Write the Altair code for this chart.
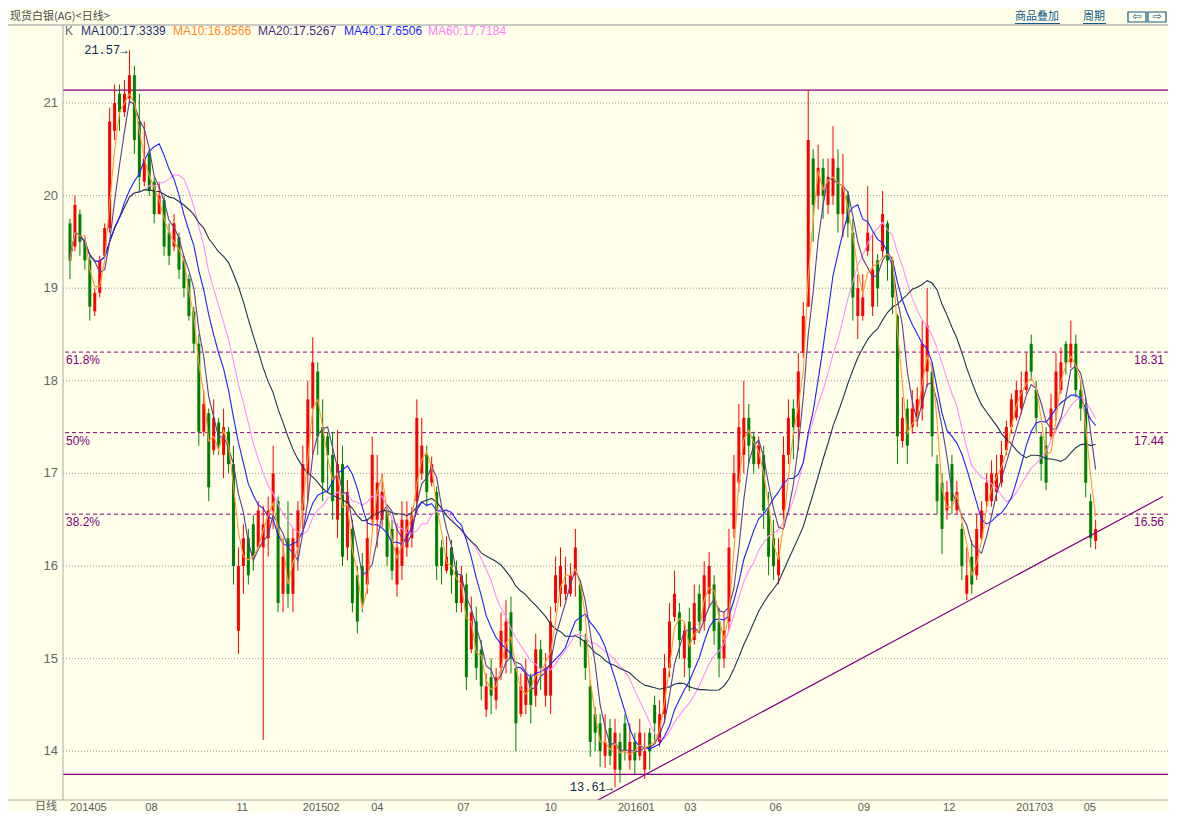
import altair as alt
import pandas as pd

# ---------------- data ----------------
opens = [19.7, 19.45, 19.8, 19.5, 19.3, 18.75, 18.95, 19.35, 19.65, 20.7,
         21.1, 20.9, 21.05, 21.3, 20.8, 20.15, 20.45, 20.15, 19.8, 19.95,
         19.6, 19.45, 19.55, 19.3, 19.1, 18.75, 18.4, 17.45, 17.65, 17.25,
         17.55, 17.2, 17.45, 17.1, 15.3, 16.0, 16.3, 16.45, 16.2, 16.2,
         16.3, 16.6, 16.7, 15.7, 16.3, 15.7, 16.2, 16.6, 17.0, 17.7,
         18.1, 17.5, 17.4, 17.2, 16.5, 17.1, 16.2, 16.4, 15.9, 16.0,
         15.8, 16.5, 16.5, 16.5, 16.6, 16.4, 15.8, 16.0, 16.2, 16.3,
         16.7, 17.0, 17.2, 16.9, 16.8, 16.2, 15.95, 16.2, 15.95, 15.6,
         15.8, 15.1, 15.4, 15.1, 14.45, 14.8, 14.55, 14.9, 15.0, 15.5,
         14.9, 14.4, 14.5, 14.8, 14.6, 15.1, 14.6, 14.6, 15.6, 15.7,
         15.7, 15.7, 15.9, 15.8, 15.2, 14.7, 14.4, 14.3, 13.95, 14.25,
         13.8, 14.1, 14.3, 13.9, 14.1, 13.95, 13.8, 14.2, 14.5, 14.1,
         14.4, 14.9, 15.45, 15.5, 15.0, 15.4, 15.2, 15.7, 15.4, 15.7,
         15.8, 15.4, 15.0, 15.4, 16.4, 16.9, 17.2, 17.6, 17.4, 17.1,
         17.2, 16.6, 16.3, 15.9, 16.6, 17.2, 17.7, 17.5, 18.3, 18.8,
         20.4, 20.0, 20.3, 19.9, 20.0, 20.3, 19.8, 20.0, 19.6, 18.7,
         18.7, 19.4, 18.8, 19.3, 19.4, 19.7, 19.3, 18.7, 17.35, 17.7,
         17.5, 17.6, 17.7, 18.1, 18.1, 17.1, 16.9, 16.6, 17.1, 16.6,
         16.4, 15.7, 16.1, 15.9, 16.3, 16.7, 16.7, 16.8, 16.9, 17.25,
         17.5, 17.6, 17.7, 17.9, 18.4, 17.9, 17.4, 17.3, 17.4, 17.7,
         17.9, 18.4, 18.2, 18.4, 17.9, 17.7, 16.7, 16.27]
highs = [19.75, 20.0, 19.85, 19.55, 19.35, 19.0, 19.35, 19.7, 20.95, 21.2,
         21.2, 21.25, 21.57, 21.4, 21.1, 20.8, 20.5, 20.2, 20.15, 20.0,
         19.7, 19.8, 19.6, 19.35, 19.15, 18.8, 18.5, 17.9, 17.7, 17.8,
         17.6, 17.7, 17.5, 17.3, 16.2, 16.45, 16.4, 16.55, 16.7, 16.65,
         16.75, 17.3, 16.75, 16.3, 16.7, 16.4, 16.7, 17.3, 18.0, 18.47,
         18.2, 17.8, 17.45, 17.45, 17.47, 17.3, 16.93, 16.5, 16.0, 16.14,
         16.5, 17.4, 17.2, 17.0, 16.64, 16.5, 16.46, 16.7, 16.7, 16.64,
         17.8, 17.6, 17.3, 17.18, 16.86, 16.28, 16.32, 16.28, 16.06, 16.0,
         15.92, 15.67, 15.56, 15.2, 14.84, 15.0, 14.9, 15.5, 15.63, 15.67,
         14.95, 14.84, 15.0, 14.84, 15.27, 15.2, 15.06, 15.56, 16.1, 16.2,
         16.1, 16.03, 16.4, 15.85, 15.27, 14.77, 14.48, 14.4, 14.4, 14.35,
         14.35, 14.2, 14.4, 14.3, 14.2, 14.35, 14.2, 14.25, 14.6, 14.55,
         15.05, 15.6, 15.95, 15.6, 15.4, 15.55, 15.8, 15.8, 16.05, 16.15,
         15.9, 15.55, 15.5, 16.4, 17.2, 17.75, 18.0, 17.75, 17.45, 17.4,
         17.3, 16.8, 16.5, 16.3, 17.4, 17.8, 17.8, 18.3, 18.85, 21.14,
         20.5, 20.55, 20.4, 20.4, 20.75, 20.5, 20.45, 20.05, 19.75, 19.15,
         19.15, 20.1, 19.6, 19.37, 20.05, 19.73, 19.33, 18.72, 17.82, 17.8,
         17.9, 17.93, 18.65, 19.0, 18.2, 17.2, 17.0, 16.92, 17.2, 16.92,
         16.46, 16.2, 16.28, 16.56, 16.7, 17.0, 17.14, 17.2, 17.35, 17.57,
         17.86, 18.0, 18.1, 18.3, 18.5, 18.0, 17.43, 17.5, 17.86, 18.3,
         18.36, 18.43, 18.65, 18.5, 18.0, 17.82, 16.78, 16.5]
lows = [19.1, 19.4, 19.35, 19.2, 18.65, 18.7, 18.9, 19.35, 19.6, 20.6,
        20.7, 20.85, 20.98, 20.45, 20.05, 20.1, 20.0, 19.7, 19.8, 19.35,
        19.25, 19.4, 19.1, 18.9, 18.65, 18.3, 17.3, 17.4, 16.7, 17.2,
        17.2, 16.95, 17.0, 15.8, 15.05, 15.7, 15.8, 15.95, 16.2, 14.12,
        16.1, 16.4, 15.5, 15.5, 15.55, 15.5, 15.95, 16.4, 16.7, 17.2,
        17.2, 16.7, 16.8, 16.5, 16.3, 16.0, 16.06, 15.5, 15.27, 15.5,
        15.7, 16.42, 16.2, 16.42, 16.0, 15.85, 15.67, 15.85, 16.1, 16.2,
        16.57, 16.93, 16.64, 16.86, 15.85, 15.8, 15.92, 15.7, 15.5, 15.5,
        14.66, 15.06, 14.77, 14.55, 14.37, 14.4, 14.45, 14.77, 14.84, 14.84,
        14.0, 14.37, 14.4, 14.3, 14.48, 14.66, 14.48, 14.4, 15.5, 15.56,
        15.63, 15.67, 15.67, 15.13, 14.77, 13.94, 14.0, 13.83, 13.82, 13.85,
        13.61, 13.66, 13.9, 13.8, 13.75, 13.9, 13.7, 13.8, 14.1, 14.05,
        14.3, 14.8, 15.4, 15.0, 14.8, 14.65, 15.15, 15.3, 15.3, 15.55,
        15.15, 14.8, 14.9, 15.3, 16.3, 16.8, 17.0, 17.1, 17.0, 17.05,
        16.4, 15.9, 15.85, 15.8, 16.5, 17.1, 17.15, 17.25, 18.25, 18.8,
        19.5, 19.85, 19.75, 19.8, 19.9, 19.6, 19.55, 19.55, 18.65, 18.45,
        18.65, 19.35, 18.7, 18.8, 19.33, 19.08, 18.72, 17.1, 17.28, 17.1,
        17.43, 17.5, 17.57, 17.93, 17.18, 16.56, 16.13, 16.5, 16.56, 16.56,
        15.85, 15.63, 15.7, 15.85, 16.28, 16.64, 16.64, 16.7, 16.85, 17.2,
        17.43, 17.57, 17.64, 17.86, 18.0, 17.43, 16.92, 16.82, 17.36, 17.57,
        17.86, 18.07, 18.14, 17.82, 17.57, 16.74, 16.2, 16.18]
closes = [19.3, 19.9, 19.5, 19.3, 18.8, 18.95, 19.3, 19.65, 20.8, 21.0,
          20.9, 21.1, 21.3, 20.6, 20.2, 20.4, 20.05, 19.8, 20.0, 19.45,
          19.35, 19.7, 19.2, 19.0, 18.7, 18.4, 17.45, 17.75, 16.85, 17.6,
          17.3, 17.5, 17.1, 16.0, 16.0, 16.3, 15.9, 16.1, 16.6, 16.45,
          16.6, 17.0, 15.6, 16.1, 15.7, 16.3, 16.6, 17.1, 17.8, 18.2,
          17.4, 16.9, 17.2, 16.7, 17.1, 16.1, 16.8, 15.6, 15.4, 15.6,
          16.3, 17.2, 16.9, 16.8, 16.1, 15.95, 16.2, 16.5, 16.5, 16.55,
          17.6, 17.3, 16.8, 17.1, 16.0, 16.0, 16.1, 15.9, 15.6, 15.9,
          14.8, 15.5, 14.9, 14.7, 14.7, 14.6, 14.8, 15.3, 15.4, 15.0,
          14.3, 14.7, 14.85, 14.5, 15.1, 14.9, 14.9, 15.4, 15.9, 16.0,
          15.8, 15.9, 16.2, 15.3, 14.9, 14.1, 14.2, 14.0, 14.1, 13.95,
          14.2, 13.8, 14.0, 14.1, 13.9, 14.2, 14.0, 14.0, 14.3, 14.4,
          14.9, 15.4, 15.7, 15.2, 15.3, 14.9, 15.6, 15.4, 15.9, 16.0,
          15.3, 15.0, 15.3, 16.2, 17.0, 17.5, 17.6, 17.3, 17.1, 17.3,
          16.6, 16.1, 16.0, 16.1, 17.2, 17.6, 17.5, 18.1, 18.7, 20.6,
          19.9, 20.3, 20.0, 20.2, 20.4, 19.8, 20.1, 19.7, 18.9, 19.0,
          18.9, 19.6, 19.2, 19.0, 19.8, 19.3, 18.9, 17.4, 17.6, 17.3,
          17.7, 17.8, 18.4, 18.6, 17.4, 16.7, 16.4, 16.8, 16.7, 16.8,
          16.0, 15.9, 15.8, 16.4, 16.6, 16.9, 17.0, 17.0, 17.2, 17.5,
          17.8, 17.9, 17.9, 18.1, 18.1, 17.6, 17.1, 16.9, 17.7, 18.1,
          18.2, 18.2, 18.4, 17.9, 17.7, 16.9, 16.3, 16.4]

month_labels = ["201405", "08", "11", "201502", "04", "07", "10",
                "201601", "03", "06", "09", "12", "201703", "05"]
month_pos = [0, 15.2, 33.6, 47, 60.8, 78.2, 95.8, 110.6, 124, 141.2,
             159, 176.2, 191, 204.6]

y_ticks = [14, 15, 16, 17, 18, 19, 20, 21]
fib_pcts = ["61.8%", "50%", "38.2%"]
fib_levels = [18.31, 17.44, 16.56]
hline_levels = [21.14, 13.75]
trend_idx = [103, 220.6]
trend_price = [13.37, 16.75]

legend_texts = ["K", "MA100:17.3339", "MA10:16.8566", "MA20:17.5267",
                "MA40:17.6506", "MA60:17.7184"]
ma_names = ["ma100", "ma10", "ma20", "ma40", "ma60"]
ma_windows = [27, 3, 5, 11, 16]   # in bars (one bar ~ 3.7 trading days)

# ---------------- styling ----------------
W, H = 1105, 774
XDOM = [-0.4, 220.6]
YDOM = [13.473, 21.8315]
BG = "#FFFFEA"
RED = "#FF0000"
GREEN = "#008000"
PURPLE = "#800080"
GRAY = "#5A5A5A"
NUM_FONT = "Liberation Sans"
CJK_FONT = "Noto Sans CJK SC"
legend_colors = ["#606878", "#1F2F6F", "#FF8C1A", "#4B2A82", "#1E1EFF", "#FF80FF"]
legend_x = [2, 18, 110, 195, 281, 365]
ma_line_colors = {"ma100": "#1E3450", "ma10": "#FF9933", "ma20": "#5C3D8F",
                  "ma40": "#2020FF", "ma60": "#FF8CFF"}

bars = pd.DataFrame({"idx": list(range(len(closes))), "open": opens,
                     "high": highs, "low": lows, "close": closes})

xs = alt.Scale(domain=XDOM, nice=False, zero=False)
ys = alt.Scale(domain=YDOM, nice=False, zero=False)
X = alt.X("idx:Q", scale=xs, axis=None)

def Y(field):
    return alt.Y(field, scale=ys, axis=None)

one = pd.DataFrame({"a": [0]})

# grid + y labels drawn by hand
tick_df = pd.DataFrame({"v": y_ticks})
grid = alt.Chart(tick_df).mark_rule(color="#9A9A9A", strokeDash=[1, 2], strokeWidth=1).encode(
    y=Y("v:Q"))
ylabels = alt.Chart(tick_df).mark_text(align="right", baseline="middle", fontSize=13,
                                       font=NUM_FONT, color="#666666").encode(
    x=alt.value(-5), y=Y("v:Q"), text=alt.Text("v:Q", format="d"))
left_axis = alt.Chart(one).mark_rule(color="#A8A8A8").encode(
    x=alt.value(0), y=alt.value(-1), y2=alt.value(H))

# fibonacci levels
fib_df = pd.DataFrame({"pct": fib_pcts, "level": fib_levels})
fib_rules = alt.Chart(fib_df).mark_rule(color=PURPLE, strokeDash=[4, 3], strokeWidth=1).encode(
    y=Y("level:Q"))
fib_left = alt.Chart(fib_df).mark_text(align="left", baseline="top", dx=3, dy=3,
                                       color=PURPLE, fontSize=12, font=NUM_FONT).encode(
    x=alt.value(0), y=Y("level:Q"), text="pct:N")
fib_right = alt.Chart(fib_df).mark_text(align="right", baseline="top", dy=3,
                                        color=PURPLE, fontSize=12, font=NUM_FONT).encode(
    x=alt.value(W - 4), y=Y("level:Q"), text=alt.Text("level:Q", format=".2f"))

hlines = alt.Chart(pd.DataFrame({"level": hline_levels})).mark_rule(
    color=PURPLE, strokeWidth=1.2).encode(y=Y("level:Q"))

# candles
base = alt.Chart(bars)
col = alt.condition("datum.close >= datum.open", alt.value(RED), alt.value(GREEN))
wicks = base.mark_rule(strokeWidth=1).encode(x=X, y=Y("low:Q"), y2="high:Q", color=col)
bodies = base.mark_bar(size=3).encode(x=X, y=Y("open:Q"), y2="close:Q", color=col)

# moving averages
ma_base = base
for name, w in zip(ma_names, ma_windows):
    ma_base = ma_base.transform_window(**{name: "mean(close)"}, frame=[-(w - 1), 0],
                                       sort=[alt.SortField("idx")])
ma_layers = []
for name in ["ma60", "ma100", "ma40", "ma20", "ma10"]:
    ma_layers.append(ma_base.mark_line(color=ma_line_colors[name], strokeWidth=1.1).encode(
        x=X, y=Y(f"{name}:Q")))

# trend line
trend = alt.Chart(pd.DataFrame({"idx": trend_idx, "price": trend_price})).mark_line(
    color=PURPLE, strokeWidth=1.2, clip=True).encode(x=X, y=Y("price:Q"))

# extreme labels
hi_lab = base.transform_joinaggregate(mh="max(high)").transform_filter(
    "datum.high == datum.mh").transform_calculate(
    lab="format(datum.high, '.2f') + '→'").mark_text(
    align="right", baseline="middle", dx=-2, fontSize=12, font="Liberation Mono",
    color="#0A2850").encode(x=X, y=Y("high:Q"), text="lab:N")
lo_lab = base.transform_joinaggregate(ml="min(low)").transform_filter(
    "datum.low == datum.ml").transform_calculate(
    lab="format(datum.low, '.2f') + '→'").mark_text(
    align="right", baseline="middle", dx=-2, fontSize=12, font="Liberation Mono",
    color="#0A2850").encode(x=X, y=Y("low:Q"), text="lab:N")

# legend (MA values)
legend_layers = []
for t, c, px in zip(legend_texts, legend_colors, legend_x):
    legend_layers.append(alt.Chart(pd.DataFrame({"t": [t]})).mark_text(
        align="left", baseline="middle", fontSize=12, font=NUM_FONT, color=c).encode(
        x=alt.value(px), y=alt.value(5), text="t:N"))

# month labels along the bottom
months = alt.Chart(pd.DataFrame({"m": month_labels, "pos": month_pos})).mark_text(
    align="left", baseline="top", fontSize=11, font=NUM_FONT, color=GRAY).encode(
    x=alt.X("pos:Q", scale=xs, axis=None), y=alt.value(H + 2), text="m:N")

bottom_line = alt.Chart(one).mark_rule(color="#A8A8A8").encode(
    x=alt.value(-55), x2=alt.value(W), y=alt.value(H))
day_lab = alt.Chart(pd.DataFrame({"t": ["日线"]})).mark_text(
    align="right", baseline="top", fontSize=11, font=CJK_FONT, color=GRAY).encode(
    x=alt.value(-6), y=alt.value(H + 1), text="t:N")

# header
sep = alt.Chart(one).mark_rule(color="#B8B8B8", strokeWidth=1.5).encode(
    x=alt.value(-55), x2=alt.value(W), y=alt.value(-1))
title = alt.Chart(pd.DataFrame({"t": ["现货白银(AG)<日线>"]})).mark_text(
    align="left", baseline="middle", fontSize=11, font=CJK_FONT, color="#4A4A4A").encode(
    x=alt.value(-53), y=alt.value(-9), text="t:N")
menu_layers = []
for t, px, wd in [("商品叠加", 952, 45), ("周期", 1020, 23)]:
    menu_layers.append(alt.Chart(pd.DataFrame({"t": [t]})).mark_text(
        align="left", baseline="middle", fontSize=11, font=CJK_FONT, color="#0F5A8A").encode(
        x=alt.value(px), y=alt.value(-9), text="t:N"))
    menu_layers.append(alt.Chart(one).mark_rule(color="#0F5A8A").encode(
        x=alt.value(px), x2=alt.value(px + wd), y=alt.value(-2.5)))
for gl, px in [("⇦", 1065), ("⇨", 1085)]:
    menu_layers.append(alt.Chart(one).mark_rect(fill=None, stroke="#0F5A8A", strokeWidth=1.2).encode(
        x=alt.value(px), x2=alt.value(px + 18), y=alt.value(-14), y2=alt.value(-4)))
    menu_layers.append(alt.Chart(pd.DataFrame({"t": [gl]})).mark_text(
        align="center", baseline="middle", fontSize=11, font="DejaVu Sans", color="#0F5A8A").encode(
        x=alt.value(px + 9), y=alt.value(-9), text="t:N"))

chart = alt.layer(
    grid, fib_rules, hlines, wicks, bodies, *ma_layers, trend,
    fib_left, fib_right, hi_lab, lo_lab, *legend_layers, ylabels, left_axis,
    months, bottom_line, day_lab, sep, title, *menu_layers
).properties(
    width=W, height=H, background=BG,
    padding={"left": 55, "top": 18, "right": 0, "bottom": 12},
    autosize=alt.AutoSizeParams(type="none"),
).configure_view(stroke=None)

chart.save("out.html", embed_options={"renderer": "svg", "actions": False})
